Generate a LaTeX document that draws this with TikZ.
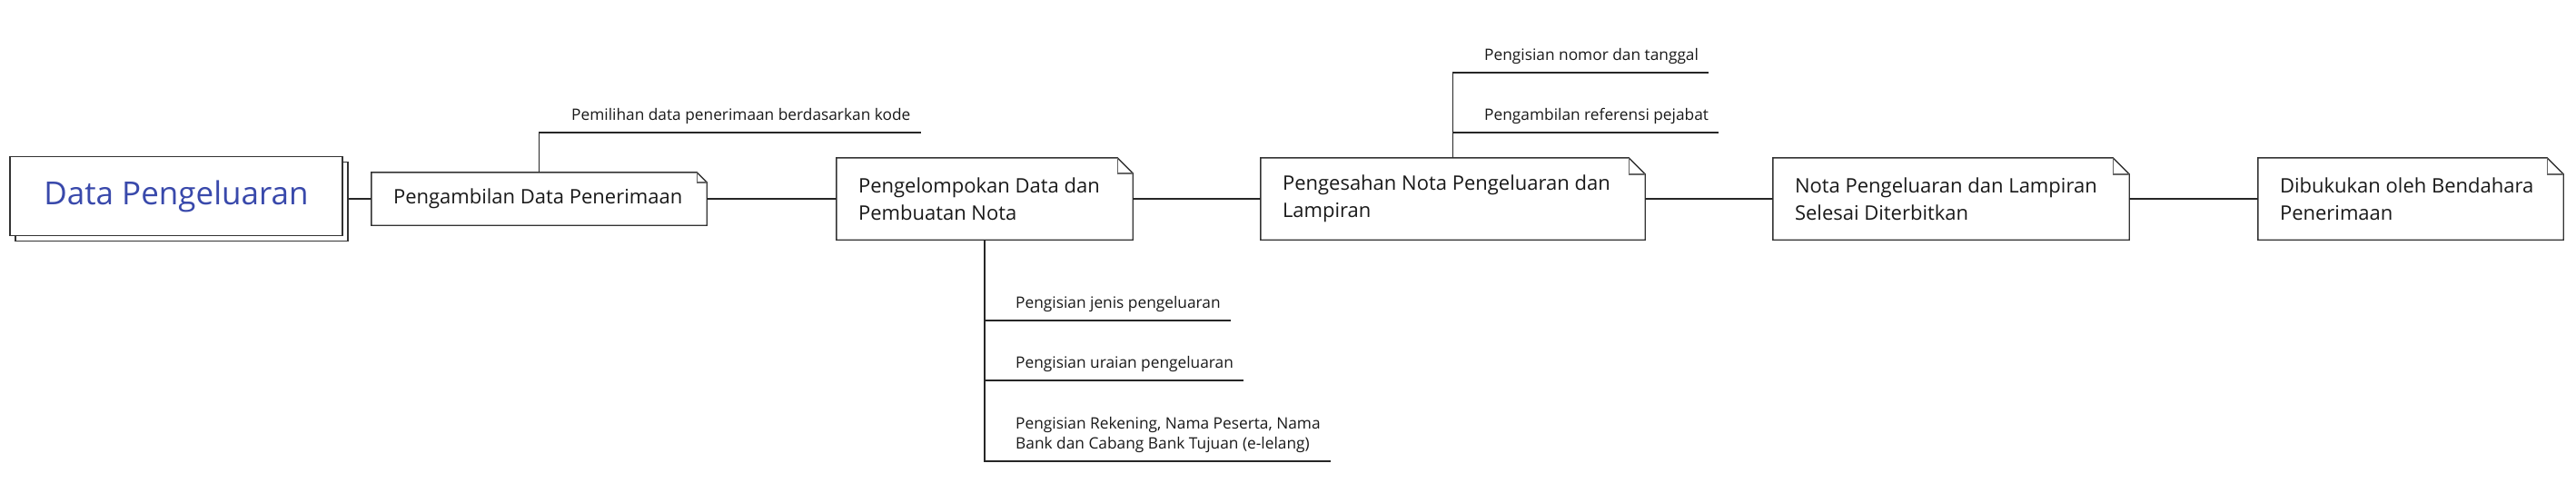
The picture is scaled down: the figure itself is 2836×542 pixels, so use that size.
\documentclass[tikz,border=0pt]{standalone}
\usepackage{fontspec}
\setmainfont{Open Sans}
\definecolor{rootblue}{RGB}{57,73,171}
\begin{document}
\begin{tikzpicture}
[x=1pt,y=-1pt,
  rootdecorate/.style={shape=rectangle,draw=black!80,line width=1.4pt,fill=white,minimum width=366pt,minimum height=87pt},
  notedecorate/.style={shape=rectangle,minimum height=90pt},
  notetext/.style={anchor=west,inner sep=0pt,align=left,font=\fontsize{22}{30}\selectfont,text=black!90},
  foldline/.style={draw=black!80,line width=1.4pt},
  leafdecorate/.style={anchor=south west,inner xsep=0pt,inner ysep=13pt,text depth=0pt,align=left,font=\fontsize{17.3}{22}\selectfont,text=black!90},
  linedecorate/.style={-,draw=black!85,line width=1.3pt}]
\useasboundingbox (0,0) rectangle (2836,542);
%% root with its shadow
\node (shadow) at (200,222) [rootdecorate] {};
\node (root) at (194,216) [rootdecorate,font=\fontsize{35}{42}\selectfont,text=rootblue] {Data Pengeluaran};
%% notes
\foreach \nodename/\x/\w/\h/\f/\txt in {n1/593.5/369/58/11/{Pengambilan Data Penerimaan},
    n2/1084/326/90/17/{Pengelompokan Data dan\\Pembuatan Nota},
    n3/1599.5/423/90/18/{Pengesahan Nota Pengeluaran dan\\Lampiran},
    n4/2148/392/90/18/{Nota Pengeluaran dan Lampiran\\Selesai Diterbitkan},
    n5/2654/336/90/18/{Dibukukan oleh Bendahara\\Penerimaan}} {
  \node (\nodename) at (\x,219) [notedecorate,minimum width=\w pt,minimum height=\h pt] {};
  \node at ([xshift=24pt]\nodename.west) [notetext] {\txt};
  \draw[foldline] (\nodename.north west) -- ([xshift=-\f pt]\nodename.north east)
    -- ([yshift=-\f pt]\nodename.north east) -- (\nodename.south east)
    -- (\nodename.south west) -- cycle;
  \draw[foldline,draw=black!60] ([xshift=-\f pt]\nodename.north east) |- ([yshift=-\f pt]\nodename.north east);
}
%% leaves
\node (p1) at (629,146) [leafdecorate] {Pemilihan data penerimaan berdasarkan kode};
\node (q1) at (1118,353) [leafdecorate] {Pengisian jenis pengeluaran};
\node (q2) at (1118,419) [leafdecorate] {Pengisian uraian pengeluaran};
\node (q3) at (1118,508) [leafdecorate] {Pengisian Rekening, Nama Peserta, Nama\\Bank dan Cabang Bank Tujuan (e-lelang)};
\node (r1) at (1634,80) [leafdecorate] {Pengisian nomor dan tanggal};
\node (r2) at (1634,146) [leafdecorate] {Pengambilan referensi pejabat};
%% edges or lines
\draw[linedecorate] (shadow.east |- n1.west) -- (n1.west);
\path
\foreach \startnode/\endnode in {n1/n2, n2/n3, n3/n4, n4/n5} {
  (\startnode) edge[linedecorate] (\endnode)
};
\foreach \startnode/\endnode in {n1.north/p1, n2.south/q1, n2.south/q2, n2.south/q3, n3.north/r1, n3.north/r2} {
  \draw[linedecorate] (\startnode) |- ([xshift=11pt]\endnode.south east);
}
\end{tikzpicture}
\end{document}
